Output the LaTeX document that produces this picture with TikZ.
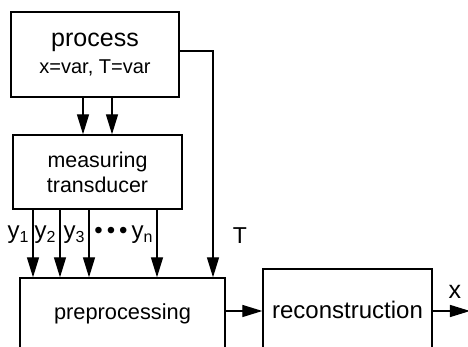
\documentclass[tikz,border=0pt]{standalone}
\usepackage{fontspec}
\setmainfont{Liberation Sans}
\usetikzlibrary{positioning,arrows.meta}

\begin{document}
\begin{tikzpicture}[
x=0.5pt, y=-0.5pt,
box/.style={draw, line width=0.65pt, align=center, inner sep=0pt},
arrow/.style={-{Triangle[length=10pt,width=6pt]}, line width=0.65pt},
lbl/.style={anchor=base east, inner sep=0pt, font=\fontsize{12}{14}\selectfont}
]
\useasboundingbox (0,0) rectangle (468,347);
\clip (0,0) rectangle (468,347);
% blocks
\node[box, minimum width=84pt, minimum height=42.5pt, font=\fontsize{12.5}{12.5}\selectfont] (process) at (95,54.5) {process\\[1pt]{\fontsize{10}{12}\selectfont x=var, T=var}};
\node[box, minimum width=84.5pt, minimum height=37pt, font=\fontsize{10.7}{12.5}\selectfont] (trans) at (97.5,172) {measuring\\transducer};
\node[box, minimum width=102.5pt, minimum height=36pt, font=\fontsize{10.9}{13}\selectfont] (pre) at (122.5,314) {preprocessing};
\node[box, minimum width=84.5pt, minimum height=41pt, font=\fontsize{12}{14}\selectfont] (rec) at (347.5,310) {reconstruction};
% process to transducer
\foreach \xa in {83,112}
  \draw[arrow] (process.south -| \xa,0) -- (trans.north -| \xa,0);
% measured signals
\foreach \xa/\lab in {33/1, 60/2, 89/3, 157/n} {
  \draw[arrow] (trans.south -| \xa,0) -- (pre.north -| \xa,0);
  \node[lbl] (y\lab) at (\xa-3,239) {y\textsubscript{\lab}};
}
\node[anchor=base, inner sep=0pt, font=\fontsize{12}{14}\selectfont] (dots) at (111,239) {\textbullet\,\textbullet\,\textbullet};
% temperature
\coordinate (tcorner) at (213,51);
\draw[arrow] (process.east |- tcorner) -- (tcorner) -- (tcorner |- pre.north);
\node[font=\fontsize{11.5}{13}\selectfont] (tlab) at (240,236) {T};
% output
\draw[arrow] (pre.east |- 0,311) -- (rec.west |- 0,311);
\coordinate (out) at (470,311);
\draw[arrow] (rec.east |- out) -- (out);
\node[font=\fontsize{12.5}{14}\selectfont] (xlab) at (455,292) {x};
\end{tikzpicture}
\end{document}
